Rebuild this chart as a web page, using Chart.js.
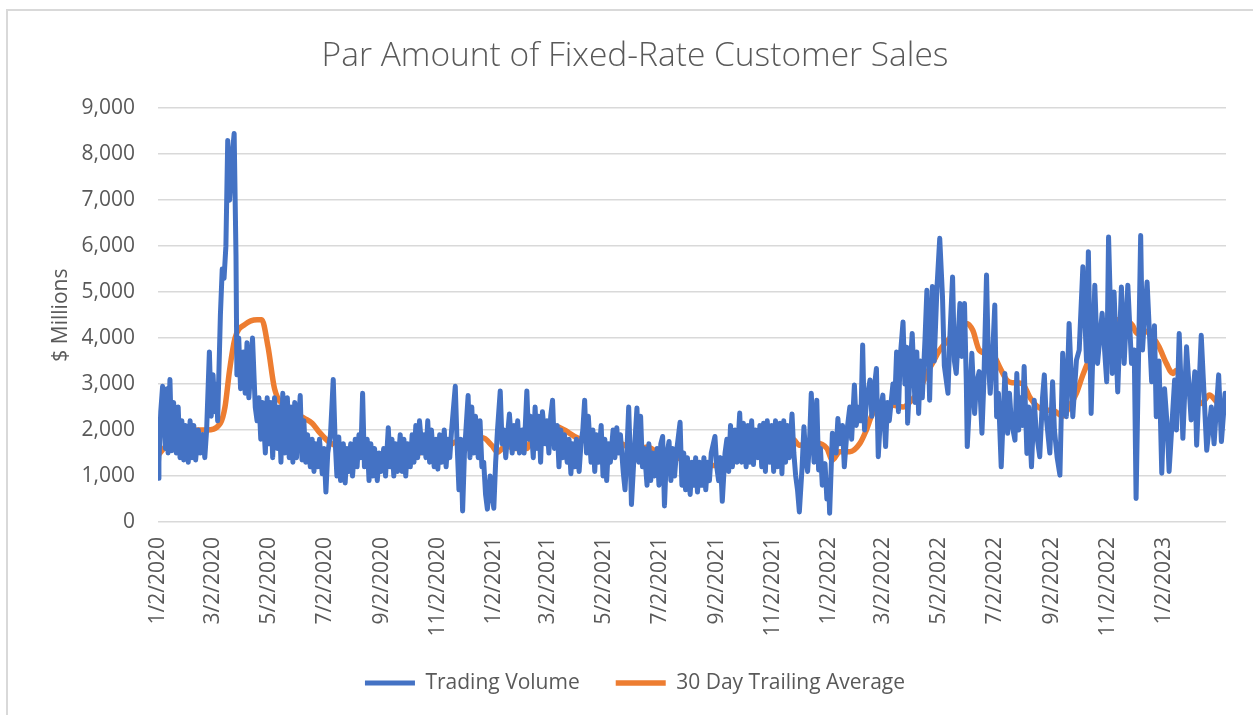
<!DOCTYPE html>
<html>
<head>
<meta charset="utf-8">
<title>Par Amount of Fixed-Rate Customer Sales</title>
<script src="https://cdn.jsdelivr.net/npm/chart.js@4/dist/chart.umd.min.js"></script>
<style>
	body { margin: 0; background: #fff; overflow: hidden; }
	#wrap { position: relative; width: 1253px; height: 715px; }
	#frame { position: absolute; left: 6px; top: 9px; width: 1260px; height: 720px; border: 2px solid #d9d9d9; pointer-events: none; }
	canvas { position: absolute; left: 0; top: 0; }
</style>
</head>
<body>
<div id="wrap">
	<canvas id="salesChart" width="1253" height="715"></canvas>
	<div id="frame"></div>
</div>
<script>
// day numbers count from 1/2/2020
const tickLabels = ['1/2/2020', '3/2/2020', '5/2/2020', '7/2/2020', '9/2/2020', '11/2/2020',
	'1/2/2021', '3/2/2021', '5/2/2021', '7/2/2021', '9/2/2021', '11/2/2021',
	'1/2/2022', '3/2/2022', '5/2/2022', '7/2/2022', '9/2/2022', '11/2/2022', '1/2/2023'];
const yTicks = [0, 1000, 2000, 3000, 4000, 5000, 6000, 7000, 8000, 9000];
const lastDay = 1164;

// Trading Volume ($ millions)
const volDay = [
	0, 1, 3, 5, 8, 10, 11, 13, 15, 17,
	20, 22, 24, 26, 28, 30, 33, 35, 37, 39,
	41, 44, 46, 49, 51, 53, 56, 58, 60, 62,
	64, 65, 68, 70, 72, 74, 76, 78, 81, 83,
	85, 86, 88, 90, 93, 95, 97, 99, 101, 103,
	106, 108, 110, 112, 114, 117, 119, 121, 123, 125,
	127, 130, 132, 134, 136, 138, 141, 143, 145, 147,
	149, 151, 155, 157, 159, 161, 163, 166, 168, 170,
	172, 174, 176, 179, 181, 183, 185, 188, 191, 193,
	195, 197, 199, 202, 204, 206, 208, 210, 212, 215,
	217, 219, 221, 223, 225, 228, 230, 232, 234, 236,
	239, 241, 243, 246, 248, 251, 253, 255, 257, 259,
	261, 264, 266, 268, 270, 272, 275, 277, 279, 281,
	283, 285, 288, 290, 292, 294, 296, 298, 301, 303,
	305, 307, 309, 312, 314, 316, 318, 320, 324, 326,
	328, 330, 332, 334, 338, 340, 342, 344, 346, 349,
	351, 353, 355, 357, 359, 362, 364, 366, 368, 370,
	373, 375, 377, 379, 381, 383, 386, 388, 390, 392,
	394, 397, 399, 402, 404, 406, 409, 411, 413, 415,
	417, 419, 422, 424, 426, 428, 430, 432, 435, 437,
	439, 441, 443, 446, 448, 450, 452, 454, 456, 459,
	461, 463, 465, 467, 469, 472, 474, 476, 478, 480,
	483, 485, 487, 489, 491, 493, 496, 498, 500, 502,
	504, 507, 509, 511, 513, 515, 516, 519, 522, 524,
	526, 528, 530, 533, 535, 537, 539, 541, 544, 546,
	548, 550, 552, 554, 557, 559, 561, 563, 565, 569,
	571, 573, 575, 577, 580, 582, 584, 586, 588, 590,
	593, 595, 597, 599, 601, 603, 607, 609, 611, 613,
	615, 618, 620, 622, 624, 626, 629, 631, 634, 636,
	638, 641, 643, 645, 647, 649, 651, 654, 656, 658,
	660, 662, 664, 667, 669, 671, 673, 675, 678, 680,
	682, 684, 686, 688, 691, 693, 695, 697, 699, 702,
	704, 706, 708, 710, 712, 715, 718, 720, 722, 724,
	727, 729, 731, 732, 735, 739, 741, 743, 746, 748,
	751, 754, 756, 759, 761, 764, 766, 768, 770, 772,
	776, 778, 780, 783, 785, 788, 790, 793, 795, 797,
	801, 803, 805, 807, 809, 812, 814, 816, 817, 820,
	822, 825, 827, 829, 831, 833, 836, 838, 841, 844,
	846, 849, 852, 855, 857, 861, 863, 866, 868, 870,
	874, 876, 879, 881, 882, 885, 887, 890, 892, 895,
	898, 900, 903, 905, 907, 910, 912, 914, 916, 919,
	923, 926, 928, 930, 934, 936, 938, 940, 942, 944,
	947, 949, 952, 955, 957, 961, 964, 966, 968, 972,
	975, 977, 980, 983, 986, 990, 993, 997, 1001, 1004,
	1008, 1012, 1014, 1017, 1021, 1024, 1026, 1029, 1034, 1036,
	1040, 1042, 1046, 1050, 1053, 1057, 1061, 1064, 1066, 1071,
	1073, 1075, 1078, 1083, 1086, 1088, 1091, 1094, 1097, 1100,
	1102, 1108, 1110, 1113, 1117, 1121, 1126, 1130, 1132, 1137,
	1143, 1148, 1151, 1156, 1159, 1163
];
const volValue = [
	950, 1300, 2400, 2950, 1600, 2900, 1500, 3100, 1550, 2600,
	1500, 2500, 1400, 2200, 1350, 2100, 1300, 2200, 1400, 2100,
	1350, 2000, 1500, 1900, 1400, 2000, 3700, 2300, 3200, 2400,
	3000, 2200, 4500, 5500, 5300, 6000, 8300, 7000, 8000, 8450,
	5800, 3200, 4000, 2900, 3700, 2800, 3900, 2700, 3300, 4000,
	2500, 2200, 2700, 1800, 2600, 1500, 2700, 1700, 2600, 1400,
	2700, 1600, 2500, 1300, 2800, 1500, 2700, 1400, 2500, 1300,
	2600, 1400, 2750, 1350, 2200, 1300, 1900, 1200, 1800, 1100,
	1700, 1200, 1800, 1050, 1600, 650, 1500, 1900, 3100, 1800,
	1000, 1850, 900, 1700, 850, 1600, 1100, 1700, 1000, 1800,
	1200, 1900, 1400, 2800, 1200, 1800, 900, 1700, 1000, 1600,
	900, 1500, 1100, 1600, 1000, 2050, 1200, 1800, 1000, 1700,
	1100, 1900, 1100, 1800, 1000, 1700, 1200, 1900, 1300, 2100,
	1400, 2200, 1500, 1900, 1400, 2200, 1300, 2000, 1200, 1800,
	1150, 1900, 1300, 2000, 1200, 1800, 1400, 2000, 2950, 1700,
	700, 1800, 240, 1500, 2750, 1400, 2500, 1500, 2300, 1400,
	2200, 1200, 1300, 600, 280, 1000, 600, 300, 1300, 2000,
	2850, 1700, 2000, 1400, 1900, 2350, 1500, 2100, 1600, 2200,
	1500, 2000, 1500, 2850, 1800, 2300, 1400, 2500, 1600, 2300,
	1300, 2400, 1700, 2200, 1500, 2300, 2650, 1600, 2100, 1200,
	2000, 1400, 1900, 1300, 1800, 1050, 1700, 1200, 1800, 1100,
	1700, 2000, 2650, 1500, 2300, 1300, 2000, 1100, 1900, 1300,
	2100, 1000, 1800, 900, 1700, 1300, 2000, 1400, 2050, 1500,
	1900, 1100, 700, 1500, 2500, 1200, 380, 1500, 2480, 1300,
	2300, 1200, 1600, 800, 1700, 900, 1500, 1000, 1600, 800,
	1700, 1860, 350, 1400, 1750, 900, 1600, 1000, 1500, 2170,
	800, 1500, 700, 1400, 600, 1300, 800, 1400, 650, 1300,
	800, 1400, 700, 1300, 900, 1500, 1860, 1200, 900, 1400,
	450, 1500, 1800, 1100, 2100, 1200, 2000, 1300, 2370, 1300,
	2150, 1200, 2100, 1300, 2200, 1250, 2000, 1400, 2100, 1200,
	2150, 1100, 2200, 1300, 2100, 1100, 2200, 1200, 2150, 1050,
	2200, 1300, 2100, 1400, 2350, 1500, 1000, 700, 220, 1200,
	2070, 1400, 1100, 1700, 2800, 1300, 2650, 1130, 1600, 800,
	1270, 500, 900, 190, 1930, 1500, 2250, 1700, 2100, 1200,
	2000, 2500, 1800, 2980, 2100, 2500, 2200, 3850, 2000, 2600,
	3090, 2300, 2800, 3340, 1420, 2500, 2760, 1640, 2600, 2200,
	3000, 2600, 3700, 2400, 3600, 4350, 3000, 3800, 2150, 3400,
	4100, 2600, 3700, 2360, 3500, 2700, 4000, 5040, 2650, 5120,
	3500, 5100, 6170, 4900, 3400, 2800, 4000, 5330, 3500, 3230,
	4750, 3600, 4750, 3000, 1640, 2800, 3670, 2360, 3000, 3270,
	1930, 3000, 5370, 3500, 2800, 3800, 4720, 2290, 2800, 1200,
	3230, 1930, 2800, 2200, 1780, 3230, 2000, 2700, 2100, 3380,
	1490, 2500, 1200, 2650, 2000, 1420, 2700, 3200, 2300, 1500,
	3050, 2000, 1400, 1020, 3670, 2290, 4320, 2290, 3520, 3740,
	5550, 3500, 5880, 2360, 5150, 3450, 3900, 4540, 3050, 6200,
	3230, 5000, 2830, 5110, 3450, 5150, 3450, 3740, 510, 6230,
	3740, 4400, 5220, 3050, 4270, 2290, 3500, 1060, 2900, 2070,
	1100, 3090, 2000, 4100, 1820, 3810, 2220, 3270, 1670, 4060,
	1560, 2500, 1700, 3200, 1750, 2800
];

// 30 Day Trailing Average ($ millions)
const avgDay = [
	0, 13, 32, 42, 53, 68, 73, 78, 84, 95,
	108, 113, 120, 127, 141, 151, 160, 168, 176, 187,
	202, 212, 222, 228, 234, 245, 260, 275, 285, 300,
	315, 326, 329, 337, 343, 354, 364, 370, 380, 387,
	402, 408, 414, 424, 435, 443, 454, 463, 474, 485,
	492, 503, 514, 522, 533, 544, 554, 565, 576, 587,
	601, 609, 618, 626, 637, 648, 656, 667, 681, 692,
	699, 718, 729, 735, 743, 754, 765, 772, 779, 790,
	801, 812, 819, 830, 838, 844, 852, 863, 871, 881,
	888, 895, 903, 910, 917, 925, 931, 942, 950, 957,
	968, 975, 986, 993, 1001, 1008, 1018, 1029, 1037, 1046,
	1055, 1062, 1067, 1075, 1084, 1091, 1099, 1106, 1110, 1117,
	1124, 1132, 1137, 1146, 1154, 1164
];
const avgValue = [
	1450, 1700, 1700, 2000, 2000, 2150, 2500, 3300, 4000, 4300,
	4400, 4400, 3800, 2900, 2500, 2350, 2250, 2150, 1950, 1730,
	1600, 1520, 1540, 1630, 1520, 1470, 1490, 1400, 1500, 1630,
	1650, 1750, 1720, 1600, 1720, 1830, 1660, 1520, 1680, 1600,
	1600, 1860, 2050, 2000, 2070, 2000, 1860, 1780, 1750, 1680,
	1650, 1720, 1600, 1560, 1630, 1520, 1450, 1410, 1310, 1230,
	1230, 1230, 1180, 1290, 1370, 1470, 1550, 1670, 1750, 1800,
	1670, 1720, 1600, 1350, 1530, 1530, 1710, 2000, 2360, 2470,
	2540, 2500, 2600, 2870, 3230, 3450, 3740, 4000, 4170, 4320,
	4170, 3740, 3670, 3640, 3380, 3090, 3030, 3010, 2720, 2540,
	2430, 2430, 2300, 2500, 2800, 3200, 3670, 4020, 4300, 4400,
	4390, 4280, 4100, 4160, 4020, 3810, 3450, 3230, 3300, 3050,
	2830, 2610, 2580, 2760, 2610, 2500
];

// turn "m/d/yyyy" into a day number
function dayOf(label) {
	const parts = label.split('/').map(Number);
	return Math.round((Date.UTC(parts[2], parts[0] - 1, parts[1]) - Date.UTC(2020, 0, 2)) / 86400000);
}

document.addEventListener('DOMContentLoaded', function() {
	const gray = '#595959';
	const gridColor = '#d9d9d9';
	Chart.defaults.font.family = "'Open Sans', 'Noto Sans', sans-serif";
	Chart.defaults.color = gray;

	const tickDays = tickLabels.map(dayOf);

	const ctx = document.getElementById('salesChart').getContext('2d');
	const chart = new Chart(ctx, {
		type: 'line',
		data: {
			datasets: [
				{
					label: 'Trading Volume',
					data: volDay.map(function(d, i) { return { x: d, y: volValue[i] }; }),
					borderColor: '#4472C4',
					backgroundColor: '#4472C4',
					borderWidth: 5,
					borderJoinStyle: 'round',
					borderCapStyle: 'round',
					pointRadius: 0,
					tension: 0
				},
				{
					label: '30 Day Trailing Average',
					data: avgDay.map(function(d, i) { return { x: d, y: avgValue[i] }; }),
					borderColor: '#ED7D31',
					backgroundColor: '#ED7D31',
					borderWidth: 5.5,
					borderJoinStyle: 'round',
					borderCapStyle: 'round',
					pointRadius: 0,
					cubicInterpolationMode: 'monotone'
				}
			]
		},
		options: {
			responsive: false,
			animation: false,
			layout: {
				padding: { left: 44, right: 27, top: 2, bottom: 11.5 }
			},
			plugins: {
				title: {
					display: true,
					text: 'Par Amount of Fixed-Rate Customer Sales',
					color: gray,
					font: { size: 33.5, weight: '300' },
					padding: { top: 34, bottom: 32 }
				},
				legend: {
					position: 'bottom',
					labels: {
						usePointStyle: true,
						pointStyle: 'line',
						pointStyleWidth: 50,
						padding: 36,
						color: gray,
						font: { size: 21 }
					}
				},
				tooltip: { enabled: false }
			},
			scales: {
				x: {
					type: 'linear',
					min: 0,
					max: lastDay,
					grid: { display: false },
					border: { display: false },
					afterBuildTicks: function(scale) {
						scale.ticks = tickDays.map(function(d) { return { value: d }; });
					},
					afterFit: function(scale) {
						scale.height = 114.5;
					},
					ticks: {
						autoSkip: false,
						minRotation: 90,
						maxRotation: 90,
						padding: 7,
						color: gray,
						font: { size: 21 },
						callback: function(value) {
							const i = tickDays.indexOf(value);
							return i >= 0 ? tickLabels[i] : '';
						}
					}
				},
				y: {
					min: yTicks[0],
					max: yTicks[yTicks.length - 1],
					afterBuildTicks: function(scale) {
						scale.ticks = yTicks.map(function(v) { return { value: v }; });
					},
					afterFit: function(scale) {
						scale.width = 114;
					},
					grid: { color: gridColor, lineWidth: 1.5, drawTicks: false },
					border: { display: false },
					ticks: {
						padding: 23,
						color: gray,
						font: { size: 21 },
						callback: function(value) {
							return value.toLocaleString('en-US');
						}
					},
					title: {
						display: true,
						text: '$ Millions',
						color: gray,
						font: { size: 21 },
						padding: { top: 4, bottom: 4 }
					}
				}
			}
		}
	});
	console.log(chart.chartArea);
});
</script>
</body>
</html>
